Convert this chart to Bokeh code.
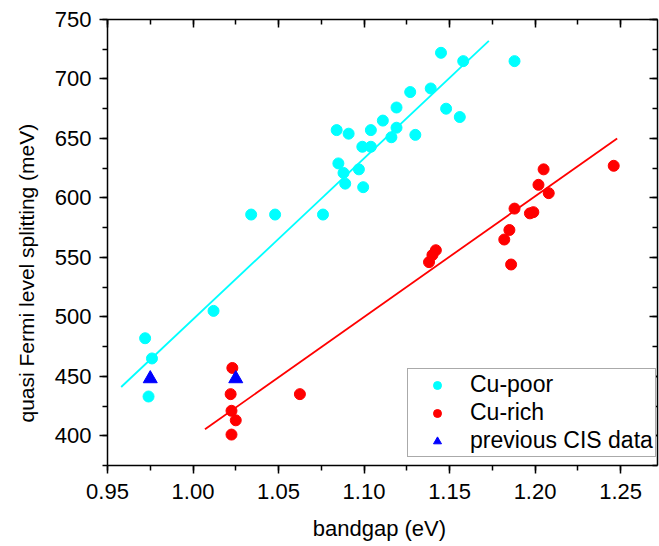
from bokeh.plotting import figure
from bokeh.models import (LinearAxis, Legend, LegendItem, Range1d, Title,
                          SingleIntervalTicker, PrintfTickFormatter,
                          CustomJSTickFormatter)
from bokeh.embed import file_html
from bokeh.resources import INLINE

# ---- data ----
poor_x = [0.972, 0.976, 0.974, 1.012, 1.034, 1.048, 1.076, 1.084, 1.085, 1.088,
          1.089, 1.091, 1.097, 1.099, 1.0995, 1.104, 1.104, 1.111, 1.116, 1.119,
          1.119, 1.127, 1.130, 1.139, 1.145, 1.148, 1.156, 1.158, 1.188]
poor_y = [482, 465, 433, 505, 586, 586, 586, 657, 629, 621,
          612, 654, 624, 643, 609, 657, 643, 665, 651, 676,
          659, 689, 653, 692, 722, 675, 668, 715, 715]

rich_x = [1.023, 1.022, 1.0225, 1.025, 1.0225, 1.0625, 1.138, 1.140, 1.142, 1.182,
          1.185, 1.186, 1.188, 1.197, 1.199, 1.202, 1.205, 1.208, 1.246]
rich_y = [457, 435, 421, 413, 401, 435, 546, 552, 556, 565,
          573, 544, 591, 587, 588, 611, 624, 604, 627]

cis_x = [0.975, 1.025]
cis_y = [448, 448]

poor_fit_x = [0.958, 1.173]
poor_fit_y = [441, 732]
rich_fit_x = [1.007, 1.248]
rich_fit_y = [405.5, 650]

x_label = "bandgap  (eV)"
y_label = "quasi Fermi level splitting (meV)"

FONT = "Liberation Sans"

p = figure(frame_width=550, frame_height=446,
           x_range=Range1d(0.95, 1.2716), y_range=Range1d(375, 750),
           output_backend="svg", toolbar_location=None,
           min_border_left=107, min_border_right=2, min_border_top=19,
           min_border_bottom=70)
p.background_fill_color = "white"
p.border_fill_color = "white"
p.outline_line_color = None
p.xgrid.visible = False
p.ygrid.visible = False


def style_axis(ax, ticker, labels=True, inward=False):
    ax.ticker = ticker
    ax.axis_line_color = "black"
    ax.axis_line_width = 1.5
    ax.major_tick_line_color = "black"
    ax.major_tick_line_width = 1.5
    ax.minor_tick_line_color = "black"
    ax.minor_tick_line_width = 1.5
    if inward:
        ax.major_tick_in = 8
        ax.major_tick_out = 0
        ax.minor_tick_in = 5
        ax.minor_tick_out = 0
    else:
        ax.major_tick_in = 0
        ax.major_tick_out = 8
        ax.minor_tick_in = 0
        ax.minor_tick_out = 5
    if labels:
        ax.major_label_text_font = FONT
        ax.major_label_text_font_size = "22px"
        ax.major_label_text_color = "black"
        ax.axis_label_text_font = FONT
        ax.axis_label_text_font_size = "22px"
        ax.axis_label_text_font_style = "normal"
        ax.axis_label_text_color = "black"
    else:
        ax.formatter = CustomJSTickFormatter(code="return ''")
        ax.major_label_text_font_size = "8px"
        ax.major_label_standoff = 0
        ax.axis_label = None


xa = p.xaxis[0]
style_axis(xa, SingleIntervalTicker(interval=0.05, num_minor_ticks=2))
xa.formatter = PrintfTickFormatter(format="%.2f")
xa.axis_label = x_label
xa.major_label_standoff = 10
xa.axis_label_standoff = 14

ya = p.yaxis[0]
style_axis(ya, SingleIntervalTicker(interval=50, num_minor_ticks=2))
ya.major_label_standoff = 8
ya.axis_label = None

# y-axis title as a side title (lets it sit a little below the frame centre)
ytitle = Title(text=y_label, align="left", offset=43, vertical_align="top",
               standoff=23, text_font=FONT, text_font_size="21px",
               text_font_style="normal", text_color="black")
p.add_layout(ytitle, "left")

top = LinearAxis()
style_axis(top, SingleIntervalTicker(interval=0.05, num_minor_ticks=2),
           labels=False, inward=True)
p.add_layout(top, "above")
right = LinearAxis()
style_axis(right, SingleIntervalTicker(interval=50, num_minor_ticks=2),
           labels=False, inward=True)
p.add_layout(right, "right")

p.line(poor_fit_x, poor_fit_y, line_color="#00FFFF", line_width=1.8)
p.line(rich_fit_x, rich_fit_y, line_color="#FF0000", line_width=1.8)

r_poor = p.scatter(poor_x, poor_y, marker="circle", size=11,
                   fill_color="#00FFFF", line_color="#00FFFF")
r_rich = p.scatter(rich_x, rich_y, marker="circle", size=11,
                   fill_color="#FF0000", line_color="#FF0000")
r_cis = p.scatter(cis_x, cis_y, marker="triangle", size=14,
                  fill_color="#0000FF", line_color="#0000FF")

legend = Legend(items=[
    LegendItem(label="Cu-poor", renderers=[r_poor]),
    LegendItem(label="Cu-rich", renderers=[r_rich]),
    LegendItem(label="previous CIS data", renderers=[r_cis]),
], location=(300, 8))
legend.margin = 0
legend.padding = 2
legend.spacing = 1
legend.glyph_width = 54
legend.label_standoff = 6
legend.label_text_font = FONT
legend.label_text_font_size = "23px"
legend.label_text_color = "black"
legend.border_line_color = "#555555"
legend.border_line_width = 1
legend.background_fill_color = "white"
legend.background_fill_alpha = 1.0
p.add_layout(legend, "center")

open("out.html", "w").write(file_html(p, INLINE))
